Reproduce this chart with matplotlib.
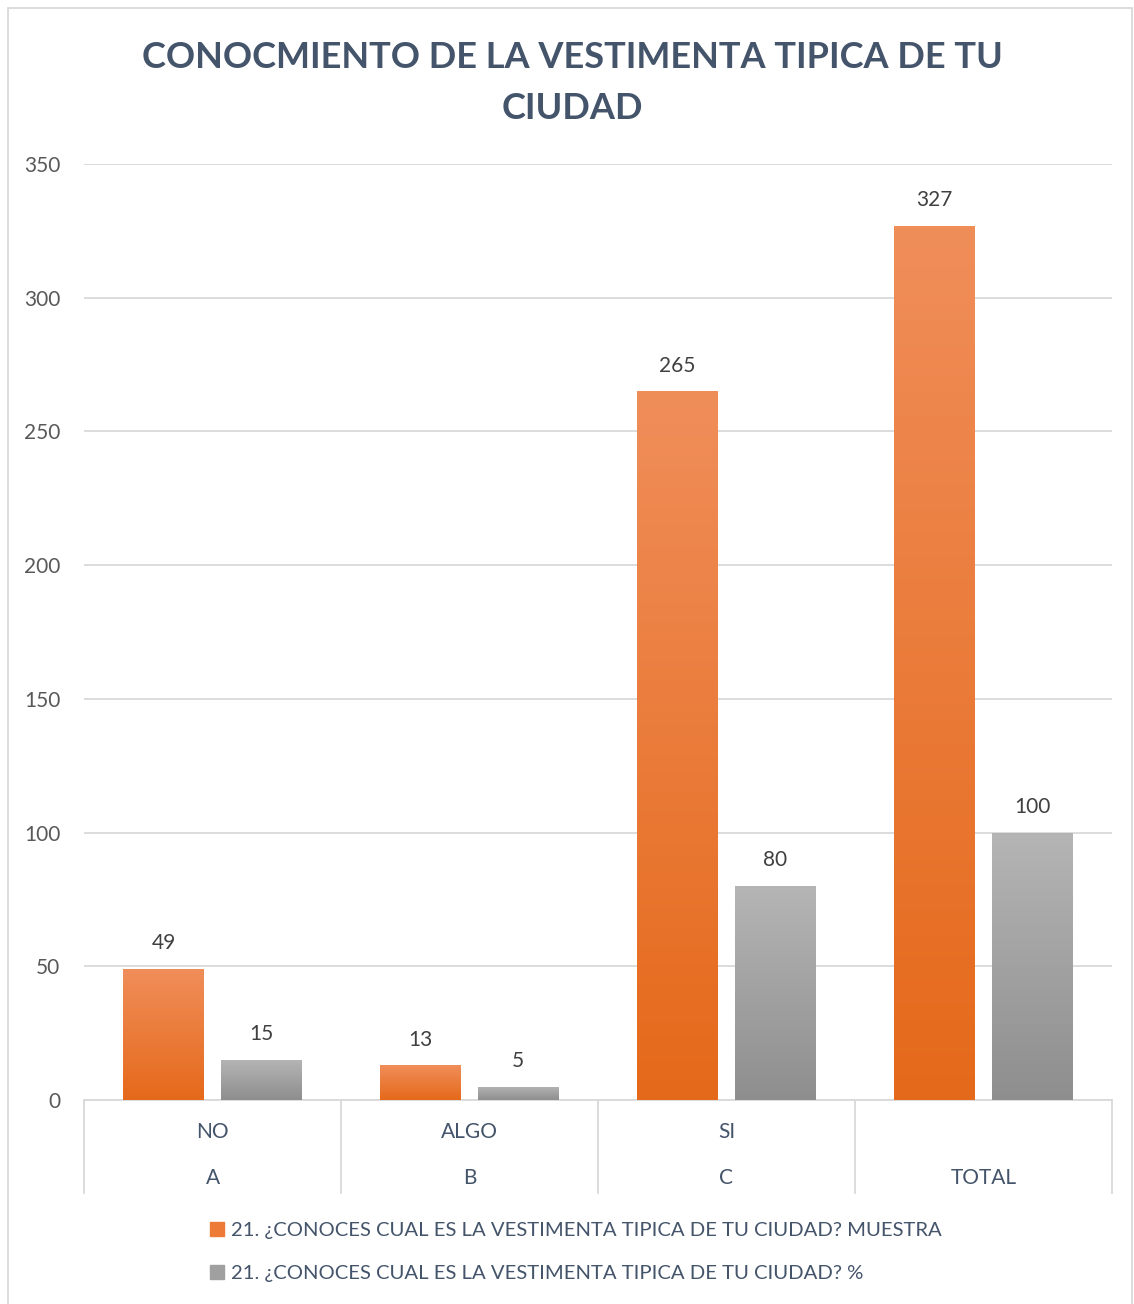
import numpy as np
import matplotlib.pyplot as plt
from matplotlib.patches import Rectangle
from matplotlib.colors import LinearSegmentedColormap

plt.rcParams['font.family'] = ['Lato', 'DejaVu Sans']

TITULO = "CONOCMIENTO DE LA VESTIMENTA TIPICA DE TU\nCIUDAD"
respuestas = ["NO", "ALGO", "SI", ""]
letras = ["A", "B", "C", "TOTAL"]
muestra = [49, 13, 265, 327]
porcentaje = [15, 5, 80, 100]
serie_muestra = "21. ¿CONOCES CUAL ES LA VESTIMENTA TIPICA DE TU CIUDAD? MUESTRA"
serie_pct = "21. ¿CONOCES CUAL ES LA VESTIMENTA TIPICA DE TU CIUDAD? %"

NARANJA = ("#E5691A", "#F08E5A")   # abajo, arriba
GRIS = ("#8E8E8E", "#B5B5B5")
TEXTO = "#44546A"
LINEA = "#D9D9D9"

fig = plt.figure(figsize=(11.34, 13.04), dpi=100)
ax = fig.add_axes([84 / 1134, 1 - 1100 / 1304, (1112 - 84) / 1134, (1100 - 164) / 1304])

x = np.arange(len(letras))
ancho = 0.315
desp = 0.19


def barras_degradado(pos, vals, colores):
    cmap = LinearSegmentedColormap.from_list("g", list(colores))
    grad = np.linspace(1, 0, 256).reshape(-1, 1)
    bars = ax.bar(pos, vals, width=ancho, color=colores[0], zorder=2)
    for b in bars:
        x0, h = b.get_x(), b.get_height()
        im = ax.imshow(grad, cmap=cmap, aspect="auto", extent=[x0, x0 + ancho, 0, h],
                       zorder=3, vmin=0, vmax=1)
        im.set_clip_path(b)
    return bars


barras_degradado(x - desp, muestra, NARANJA)
barras_degradado(x + desp, porcentaje, GRIS)

for xi, v in zip(x - desp, muestra):
    ax.annotate(str(v), (xi, v), xytext=(0, 18.5), textcoords="offset points",
                ha="center", va="center", fontsize=15, color="#404040")
for xi, v in zip(x + desp, porcentaje):
    ax.annotate(str(v), (xi, v), xytext=(0, 18.5), textcoords="offset points",
                ha="center", va="center", fontsize=15, color="#404040")

ax.set_xlim(-0.5, 3.5)
ax.set_ylim(0, 350)
ax.set_yticks(range(0, 351, 50))
ax.yaxis.grid(True, color=LINEA, lw=1.3, zorder=0)
ax.set_axisbelow(True)
ax.tick_params(axis="y", length=0, pad=17, labelsize=15, labelcolor="#595959")
ax.set_xticks([])
for s in ["top", "right", "left"]:
    ax.spines[s].set_visible(False)
ax.spines["bottom"].set_color(LINEA)
ax.spines["bottom"].set_linewidth(1.3)

# eje de categorias en dos niveles
tr = ax.get_xaxis_transform()
for xs in np.arange(-0.5, 4.0, 1.0):
    ax.plot([xs, xs], [0, -0.0994], transform=tr, color=LINEA, lw=1.3, clip_on=False)
for xi, r, l in zip(x, respuestas, letras):
    ax.text(xi, -0.0342, r, transform=tr, ha="center", va="center", fontsize=15, color=TEXTO)
    ax.text(xi, -0.0833, l, transform=tr, ha="center", va="center", fontsize=15, color=TEXTO)

fig.text(0.505, 1 - 83 / 1304, TITULO, ha="center", va="center", fontsize=26,
         fontweight="bold", color=TEXTO, linespacing=1.65)

h1 = Rectangle((0, 0), 1, 1, color="#EE7A38")
h2 = Rectangle((0, 0), 1, 1, color="#A0A0A0")
fig.legend([h1, h2], [serie_muestra, serie_pct], loc="center left",
           bbox_to_anchor=(192 / 1134, 1 - 1252 / 1304), frameon=False, fontsize=14.6,
           labelcolor=TEXTO, handlelength=0.7, handleheight=0.7, handletextpad=0.3,
           labelspacing=1.3)

fig.add_artist(Rectangle((8 / 1134, -0.01), 1124 / 1134, 1 - 8 / 1304 + 0.01,
                         transform=fig.transFigure, fill=False, ec=LINEA, lw=1.3))

fig.savefig("out.png", dpi=100)
